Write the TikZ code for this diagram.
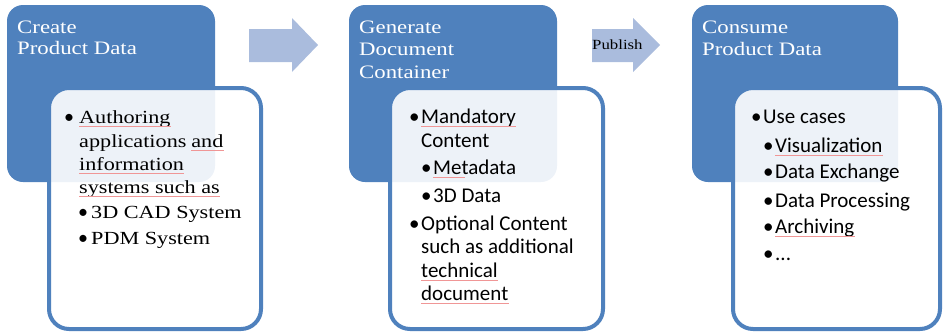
\documentclass[tikz,border=0pt]{standalone}
\usepackage{fontspec}
\setmainfont[FakeStretch=1.2]{Liberation Serif}
\newfontfamily\serifc[FakeStretch=1.2]{Liberation Serif}
\newfontfamily\calib{Carlito}
\definecolor{boxblue}{RGB}{79,129,189}
\definecolor{arrowc}{RGB}{170,188,221}
\definecolor{spell}{RGB}{240,150,150}
\tikzset{
  tbox/.style={fill=boxblue, rounded corners=16pt, inner sep=0, outer sep=0},
  ibox/.style={draw=boxblue, line width=4pt, fill=white, fill opacity=0.9, rounded corners=20pt, inner sep=0, outer sep=0},
  ttl/.style={anchor=base west, text=white, font=\serifc\fontsize{19}{22}\selectfont, inner sep=0},
  bs/.style={anchor=base west, font=\serifc\fontsize{18.5}{22}\selectfont, inner sep=0},
  bsb/.style={anchor=base west, font=\calib\fontsize{20}{22}\selectfont, inner sep=0, xshift=-3pt},
  bc/.style={anchor=base west, font=\calib\fontsize{21}{24}\selectfont, inner sep=0},
  bcb/.style={bc, xshift=-3pt},
  flowarrow/.style={fill=arrowc},
  spl/.style={draw=spell, line width=0.8pt}
}
\newcommand{\spellmark}[1]{\draw[spl] ([yshift=-3pt]#1.base west) -- ([yshift=-3pt]#1.base east);}
\begin{document}
\begin{tikzpicture}[x=1pt,y=-1pt]
\useasboundingbox (0,0) rectangle (943,333);
% box 1
\node[tbox, minimum width=208pt, minimum height=177pt] (d1) at (111,93.5) {};
\node[ibox, minimum width=212pt, minimum height=241pt] (i1) at (155,208.5) {};
\node[ttl] (t1a) at (17,33) {Create};
\node[ttl] (t1b) at (17,54) {Product Data};
\node[bsb] (b1a) at (67,123) {•};
\node[bs] (l1a) at (79,123) {Authoring};
\node[bs] (l1b) at (79,147) {applications};
\node[bs] (l1bb) at (l1b.base east) [xshift=4.5pt] {and};
\node[bs] (l1c) at (79,170) {information};
\node[bs] (l1d) at (79,193) {systems such as};
\node[bsb] (b1e) at (81,218) {•};
\node[bs] (l1e) at (91,218) {3D CAD System};
\node[bsb] (b1f) at (81,244) {•};
\node[bs] (l1f) at (91,244) {PDM System};
\spellmark{l1a}
\spellmark{l1bb}
\spellmark{l1c}
\spellmark{l1d}
% arrow 1
\fill[flowarrow] (249,29) -- (292,29) -- (292,18) -- (318,45) -- (292,72) -- (292,62) -- (249,62) -- cycle;
% box 2
\node[tbox, minimum width=208pt, minimum height=177pt] (d2) at (453,93.5) {};
\node[ibox, minimum width=213pt, minimum height=241pt] (i2) at (496.5,208.5) {};
\node[ttl] (t2a) at (359,33) {Generate};
\node[ttl] (t2b) at (359,55) {Document};
\node[ttl] (t2c) at (359,78) {Container};
\node[bcb] (b2a) at (412,123) {•};
\node[bc] (l2a) at (421,123) {Mandatory};
\node[bc] (l2b) at (421,147) {Content};
\node[bcb] (b2c) at (424,174) {•};
\node[bc] (l2c) at (433,174) {Metadata};
\node[bcb] (b2d) at (424,202) {•};
\node[bc] (l2d) at (433,202) {3D Data};
\node[bcb] (b2e) at (412,230) {•};
\node[bc] (l2e) at (421,230) {Optional Content};
\node[bc] (l2f) at (421,253) {such as additional};
\node[bc] (l2g) at (421,277) {technical};
\node[bc] (l2h) at (421,300) {document};
\spellmark{l2a}
\draw[spl] ([yshift=-3pt]l2c.base west) -- ([yshift=-3pt,xshift=-10pt]l2c.base);
\spellmark{l2g}
\spellmark{l2h}
% arrow 2
\fill[flowarrow] (592,29) -- (633,29) -- (633,18) -- (660,45) -- (633,72) -- (633,62) -- (592,62) -- cycle;
\node[anchor=base west, inner sep=0, font=\serifc\fontsize{14}{16}\selectfont] (pub) at (592,49) {Publish};
% box 3
\node[tbox, minimum width=206pt, minimum height=177pt] (d3) at (795,93.5) {};
\node[ibox, minimum width=207pt, minimum height=241pt] (i3) at (836.5,208.5) {};
\node[ttl] (t3a) at (702,33) {Consume};
\node[ttl] (t3b) at (702,55) {Product Data};
\node[bcb] (b3a) at (754,123) {•};
\node[bc] (l3a) at (763,123) {Use cases};
\node[bcb] (b3b) at (766,152) {•};
\node[bc] (l3b) at (775,152) {Visualization};
\node[bcb] (b3c) at (766,178) {•};
\node[bc] (l3c) at (775,178) {Data Exchange};
\node[bcb] (b3d) at (766,207) {•};
\node[bc] (l3d) at (775,207) {Data Processing};
\node[bcb] (b3e) at (766,233) {•};
\node[bc] (l3e) at (775,233) {Archiving};
\node[bcb] (b3f) at (766,260) {•};
\node[bc] (l3f) at (775,260) {...};
\spellmark{l3b}
\spellmark{l3e}
\end{tikzpicture}
\end{document}
